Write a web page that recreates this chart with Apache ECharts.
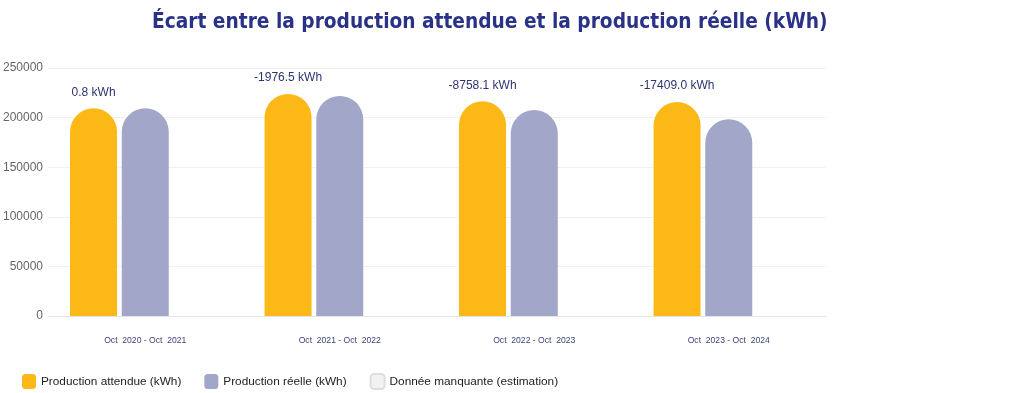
<!DOCTYPE html>
<html>
<head>
<meta charset="utf-8">
<script src="https://cdn.jsdelivr.net/npm/echarts@6/dist/echarts.min.js"></script>
<style>
html,body{margin:0;padding:0;background:#fff;}
#c{width:1024px;height:393px;}
</style>
</head>
<body>
<div id="c"></div>
<script>
const titleText = "Écart entre la production attendue et la production réelle (kWh)";
const categories = ["Oct  2020 - Oct  2021", "Oct  2021 - Oct  2022", "Oct  2022 - Oct  2023", "Oct  2023 - Oct  2024"];
const expected = [209400, 223800, 216400, 215700];
const actual = [209400.8, 221823.5, 207641.9, 198291.0];
const missing = [null, null, null, null];
const diffs = ["0.8", "-1976.5", "-8758.1", "-17409.0"];
const seriesNames = ["Production attendue (kWh)", "Production réelle (kWh)", "Donnée manquante (estimation)"];

const chart = echarts.init(document.getElementById('c'), null, {renderer: 'canvas'});
const font = "Liberation Sans, Arial, Helvetica, sans-serif";
chart.setOption({
  animation: false,
  backgroundColor: '#ffffff',
  title: {
    text: titleText,
    left: 147,
    top: 7,
    textStyle: {
      fontFamily: "DejaVu Sans Condensed, sans-serif",
      fontWeight: 'bold',
      fontSize: 20.7,
      color: '#2a3287'
    }
  },
  legend: {
    left: 17,
    top: 368,
    itemWidth: 14,
    itemHeight: 15,
    itemGap: 23,
    icon: 'roundRect',
    textStyle: {fontFamily: font, fontSize: 11.8, color: '#222'},
    data: seriesNames
  },
  grid: {left: 48, right: 198, top: 68, bottom: 77, containLabel: false, outerBoundsMode: 'none'},
  xAxis: {
    type: 'category',
    data: categories,
    axisLine: {show: true, lineStyle: {color: '#e4e4e4', width: 1}},
    axisTick: {show: false},
    axisLabel: {fontFamily: font, fontSize: 8.6, color: '#3b3f7a', margin: 20}
  },
  yAxis: {
    type: 'value',
    min: 0,
    max: 250000,
    interval: 50000,
    axisLine: {show: false},
    axisTick: {show: false},
    axisLabel: {fontFamily: font, fontSize: 12, color: '#666', margin: 5, formatter: v => String(v)},
    splitLine: {lineStyle: {color: '#f0f0f0', width: 1}}
  },
  series: [
    {
      name: seriesNames[0],
      type: 'bar',
      data: expected,
      barWidth: 47,
      barGap: '10%',
      itemStyle: {color: '#fbb817', borderRadius: [24, 24, 0, 0]},
      label: {
        show: true,
        position: 'top',
        distance: 10,
        fontFamily: font,
        fontSize: 12,
        color: '#2f336e',
        formatter: p => diffs[p.dataIndex] + ' kWh'
      }
    },
    {
      name: seriesNames[1],
      type: 'bar',
      data: actual,
      barWidth: 47,
      barGap: '10%',
      itemStyle: {color: '#a2a6c8', borderRadius: [24, 24, 0, 0]}
    },
    {
      name: seriesNames[2],
      type: 'bar',
      data: missing,
      barWidth: 47,
      barGap: '10%',
      itemStyle: {color: '#f2f2f2', borderColor: '#dddddd', borderWidth: 1, borderRadius: [24, 24, 0, 0]}
    }
  ]
});
</script>
</body>
</html>
